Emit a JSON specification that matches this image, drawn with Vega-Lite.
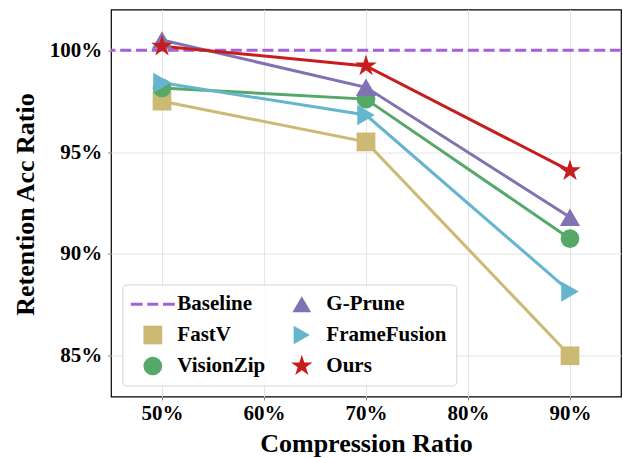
{
  "$schema": "https://vega.github.io/schema/vega-lite/v6.json",
  "autosize": "none",
  "width": 510,
  "height": 387,
  "padding": {"left": 111, "top": 9.5, "right": 2, "bottom": 61.5},
  "background": "white",
  "config": {
    "view": {"stroke": "black", "strokeWidth": 1.2},
    "font": "Liberation Serif",
    "axis": {
      "labelFont": "Liberation Serif", "labelFontWeight": "bold", "labelFontSize": 21, "labelColor": "black",
      "titleFont": "Liberation Serif", "titleFontWeight": "bold", "titleFontSize": 26, "titleColor": "black",
      "domain": false, "gridColor": "#e4e4e4", "gridWidth": 1, "tickColor": "#888", "tickSize": 3.5, "tickWidth": 1
    },
    "legend": {
      "labelFont": "Liberation Serif", "labelFontWeight": "bold", "labelFontSize": 21, "labelColor": "black",
      "symbolSize": 350, "symbolOffset": 11, "labelOffset": 14, "columnPadding": 15, "rowPadding": 9,
      "padding": 9, "strokeColor": "#d4d4d4", "fillColor": "rgba(255,255,255,0.85)", "cornerRadius": 4,
      "symbolStrokeWidth": 0, "symbolOpacity": 1
    }
  },
  "datasets": {
    "main": [
      {"method": "FastV", "ratio": 50, "acc": 97.5},
      {"method": "FastV", "ratio": 70, "acc": 95.5},
      {"method": "FastV", "ratio": 90, "acc": 85.0},
      {"method": "VisionZip", "ratio": 50, "acc": 98.15},
      {"method": "VisionZip", "ratio": 70, "acc": 97.6},
      {"method": "VisionZip", "ratio": 90, "acc": 90.75},
      {"method": "G-Prune", "ratio": 50, "acc": 100.5},
      {"method": "G-Prune", "ratio": 70, "acc": 98.18},
      {"method": "G-Prune", "ratio": 90, "acc": 91.8},
      {"method": "FrameFusion", "ratio": 50, "acc": 98.4},
      {"method": "FrameFusion", "ratio": 70, "acc": 96.82},
      {"method": "FrameFusion", "ratio": 90, "acc": 88.15},
      {"method": "Ours", "ratio": 50, "acc": 100.2},
      {"method": "Ours", "ratio": 70, "acc": 99.23},
      {"method": "Ours", "ratio": 90, "acc": 94.08}
    ],
    "baseline": [{"method": "Baseline", "acc": 100}]
  },
  "encoding": {
    "y": {
      "field": "acc", "type": "quantitative",
      "scale": {"domain": [83, 102], "nice": false, "zero": false},
      "axis": {"values": [85, 90, 95, 100], "labelExpr": "datum.value + '%'", "title": "Retention Acc Ratio",
               "labelPadding": 5.8, "titleX": -77.7, "titleY": 194.5, "titleAngle": -90, "titleAlign": "center", "titleBaseline": "alphabetic"}
    }
  },
  "layer": [
    {
      "data": {"name": "baseline"},
      "mark": {"type": "rule", "strokeWidth": 3, "strokeDash": [11, 4.8]},
      "encoding": {
        "stroke": {
          "field": "method", "type": "nominal", "legend": null,
          "scale": {
            "domain": ["Baseline", "G-Prune", "FastV", "FrameFusion", "VisionZip", "Ours"],
            "range": ["#A560DB", "#8172B2", "#CCB974", "#64B5CD", "#55A868", "#C71E1D"]
          }
        }
      }
    },
    {
      "data": {"name": "main"},
      "mark": {"type": "line", "strokeWidth": 3},
      "encoding": {
        "x": {
          "field": "ratio", "type": "quantitative",
          "scale": {"domain": [45, 95], "nice": false, "zero": false},
          "axis": {"values": [50, 60, 70, 80, 90], "labelExpr": "datum.value + '%'", "title": "Compression Ratio",
                   "labelBaseline": "alphabetic", "labelPadding": 19, "titleX": 255, "titleY": 54.5, "titleBaseline": "alphabetic", "titleAlign": "center"}
        },
        "stroke": {"field": "method", "type": "nominal", "legend": null},
        "detail": {"field": "method", "type": "nominal"}
      }
    },
    {
      "data": {"name": "main"},
      "mark": {"type": "point", "filled": true, "opacity": 1},
      "encoding": {
        "x": {
          "field": "ratio", "type": "quantitative",
          "scale": {"domain": [45, 95], "nice": false, "zero": false},
          "axis": {"values": [50, 60, 70, 80, 90], "labelExpr": "datum.value + '%'", "title": "Compression Ratio",
                   "labelBaseline": "alphabetic", "labelPadding": 19, "titleX": 255, "titleY": 54.5, "titleBaseline": "alphabetic", "titleAlign": "center"}
        },
        "color": {
          "field": "method", "type": "nominal",
          "scale": {
            "domain": ["Baseline", "FastV", "VisionZip", "G-Prune", "FrameFusion", "Ours"],
            "range": ["#A560DB", "#CCB974", "#55A868", "#8172B2", "#64B5CD", "#C71E1D"]
          },
          "legend": {"title": null, "orient": "none", "legendX": 11.3, "legendY": 275, "columns": 2}
        },
        "shape": {
          "field": "method", "type": "nominal",
          "scale": {
            "domain": ["Baseline", "FastV", "VisionZip", "G-Prune", "FrameFusion", "Ours"],
            "range": [
              "M-2.35,-0.16H-1.09V0.16H-2.35Z M-0.59,-0.16H0.59V0.16H-0.59Z M1.09,-0.16H2.35V0.16H1.09Z",
              "square", "circle", "triangle-up", "triangle-right",
              "M0,-1.2L0.269,-0.371L1.141,-0.371L0.436,0.142L0.706,0.971L0,0.458L-0.706,0.971L-0.436,0.142L-1.141,-0.371L-0.269,-0.371Z"
            ]
          },
          "legend": {"title": null, "orient": "none", "legendX": 11.3, "legendY": 275, "columns": 2}
        },
        "size": {
          "field": "method", "type": "nominal", "legend": null,
          "scale": {
            "type": "ordinal",
            "domain": ["Ours", "FastV", "VisionZip", "G-Prune", "FrameFusion", "Baseline"],
            "range": [361, 350, 350, 410, 410, 350]
          }
        }
      }
    }
  ]
}
